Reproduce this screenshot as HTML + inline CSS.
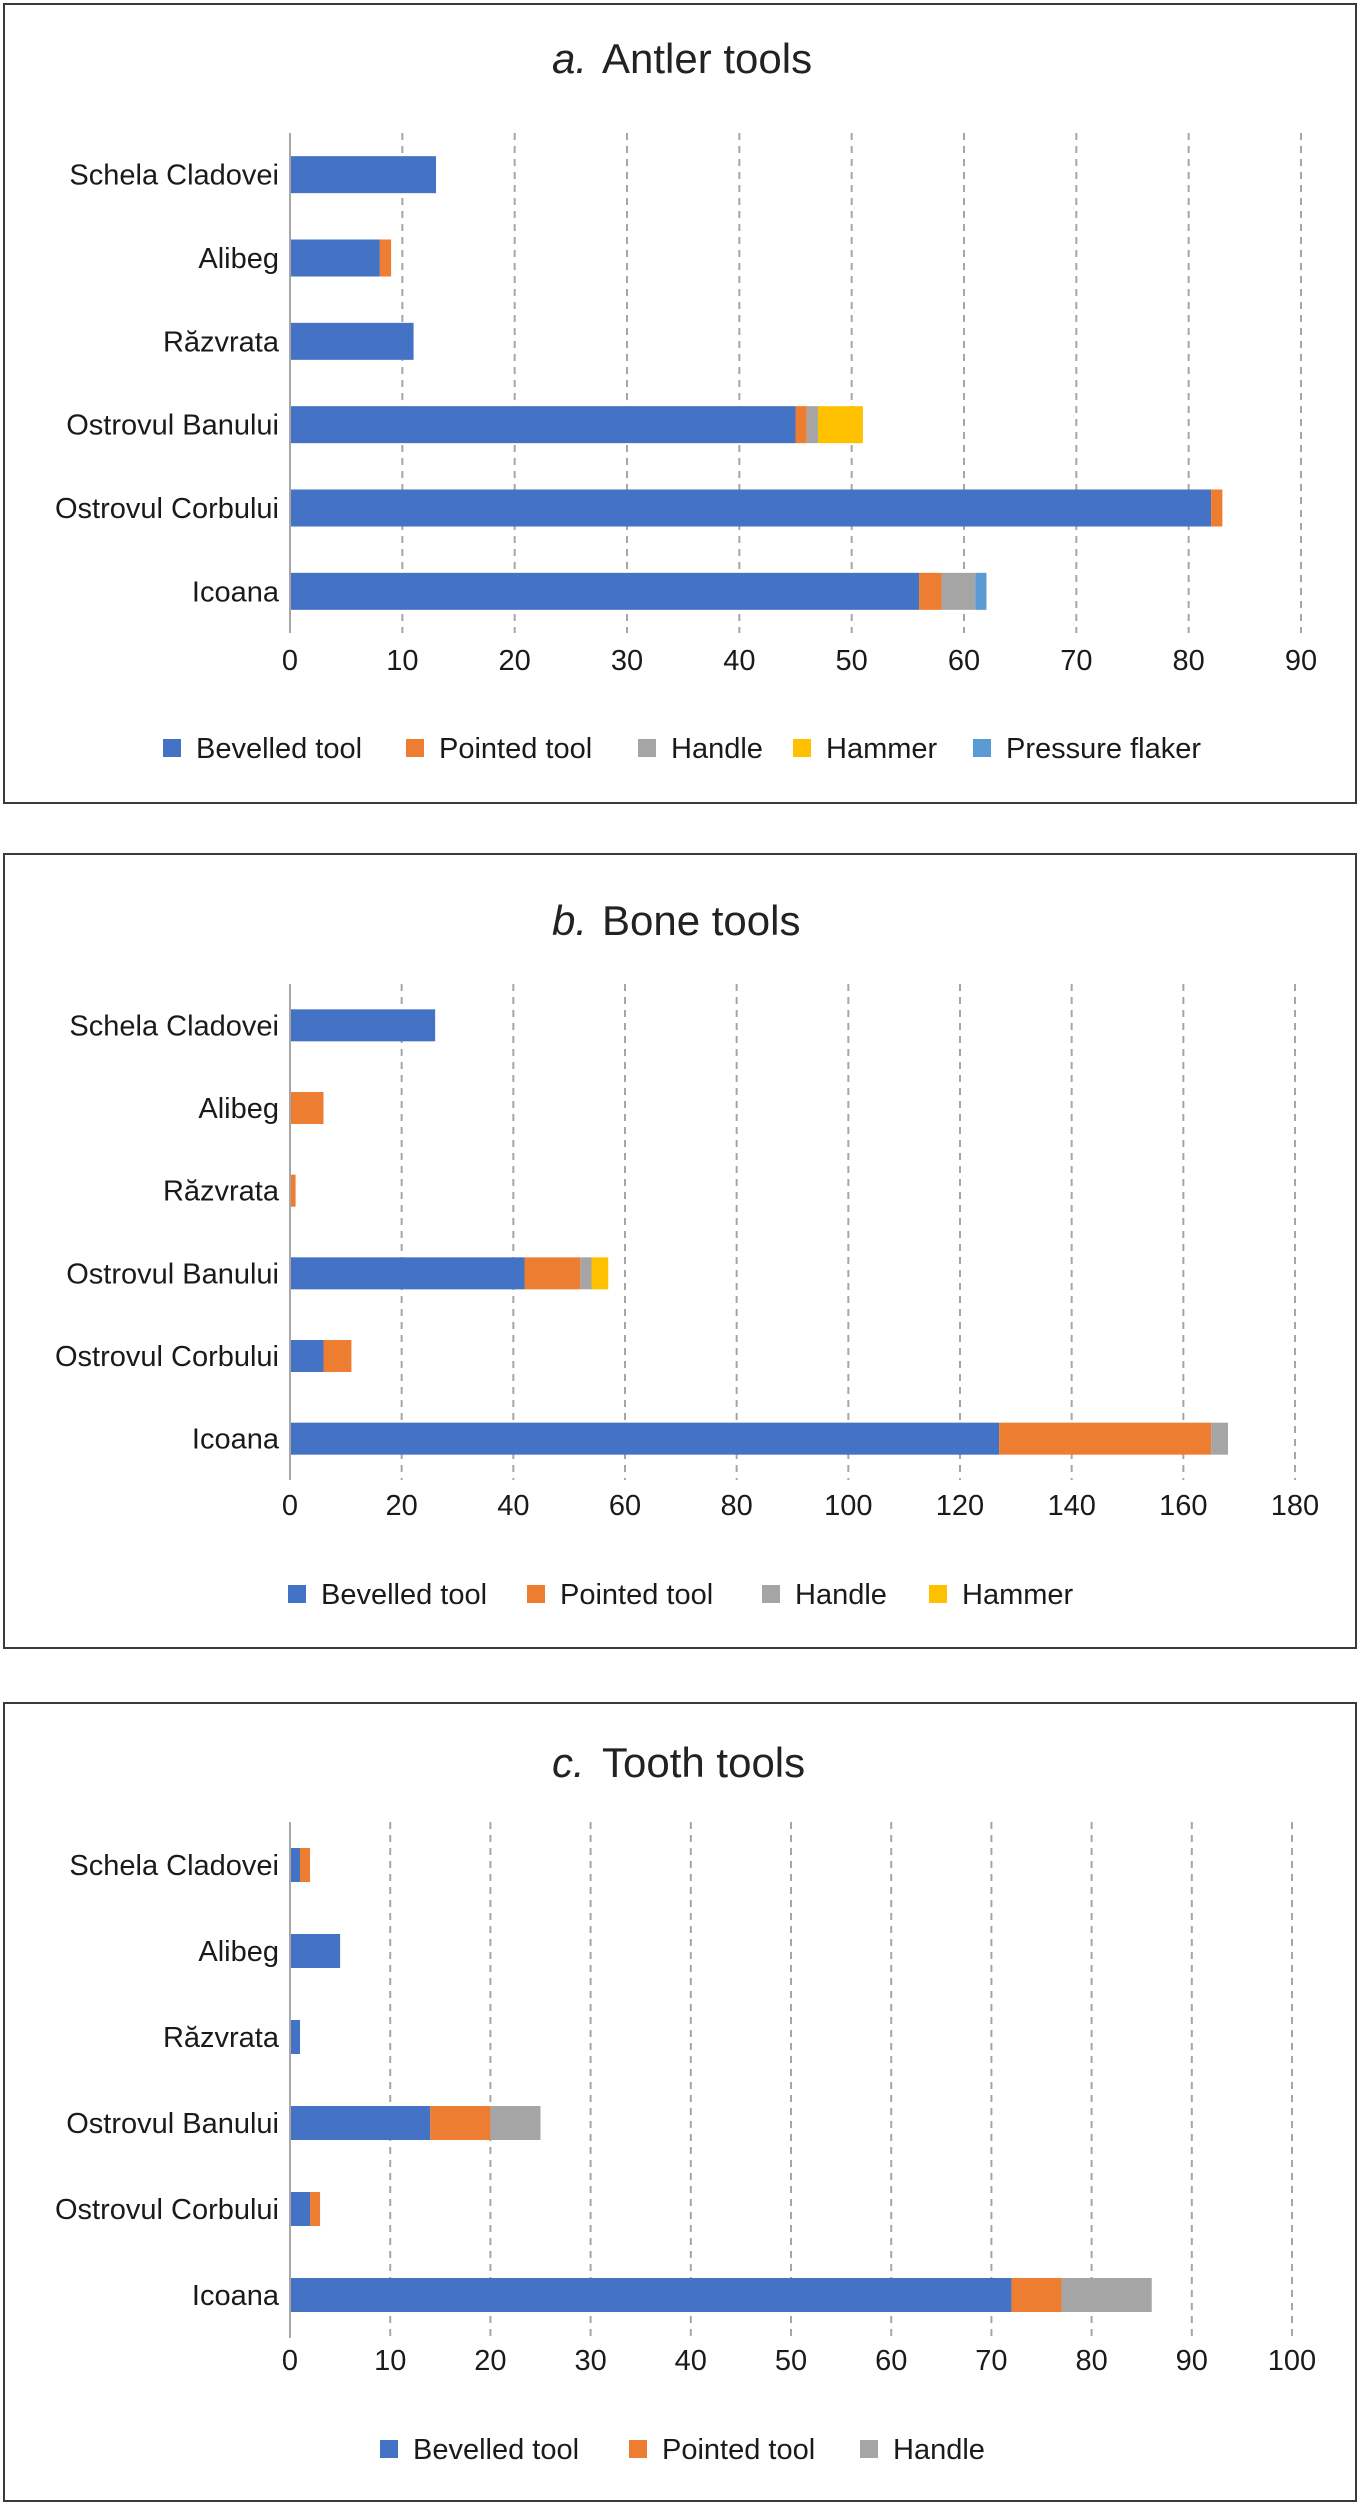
<!DOCTYPE html>
<html><head><meta charset="utf-8"><style>
html,body{margin:0;padding:0;background:#fff;}
svg{display:block;font-family:"Liberation Sans",sans-serif;}
</style></head><body>
<svg id="root" width="1362" height="2505" viewBox="0 0 1362 2505" xmlns="http://www.w3.org/2000/svg"></svg>
<script>
// ---- shared data ----
const categories = ["Schela Cladovei","Alibeg","Răzvrata","Ostrovul Banului","Ostrovul Corbului","Icoana"];
const seriesNames = ["Bevelled tool","Pointed tool","Handle","Hammer","Pressure flaker"];
const seriesColors = ["#4472C4","#ED7D31","#A5A5A5","#FFC000","#5B9BD5"];

// ---- chart a: antler tools ----
const antlerBevelled = [13, 8, 11, 45, 82, 56];
const antlerPointed  = [0, 1, 0, 1, 1, 2];
const antlerHandle   = [0, 0, 0, 1, 0, 3];
const antlerHammer   = [0, 0, 0, 4, 0, 0];
const antlerFlaker   = [0, 0, 0, 0, 0, 1];
const antlerTicks = [0,10,20,30,40,50,60,70,80,90];

// ---- chart b: bone tools ----
const boneBevelled = [26, 0, 0, 42, 6, 127];
const bonePointed  = [0, 6, 1, 10, 5, 38];
const boneHandle   = [0, 0, 0, 2, 0, 3];
const boneHammer   = [0, 0, 0, 3, 0, 0];
const boneTicks = [0,20,40,60,80,100,120,140,160,180];

// ---- chart c: tooth tools ----
const toothBevelled = [1, 5, 1, 14, 2, 72];
const toothPointed  = [1, 0, 0, 6, 1, 5];
const toothHandle   = [0, 0, 0, 5, 0, 9];
const toothTicks = [0,10,20,30,40,50,60,70,80,90,100];

const NS = "http://www.w3.org/2000/svg";
const root = document.getElementById("root");
function mk(tag, attrs, parent){
  const e = document.createElementNS(NS, tag);
  for (const k in attrs) e.setAttribute(k, attrs[k]);
  (parent||root).appendChild(e);
  return e;
}

function drawChart(cfg){
  const g = mk("g", {});
  
  
  const frame = mk("rect", {x:4, y:cfg.boxTop, width:1352, height:cfg.boxBottom-cfg.boxTop, fill:"#fff", stroke:"#3a3a3a", "stroke-width":2}, g);
  
  
  // title
  const t = mk("text", {x:552, y:cfg.titleY, "font-size":42, fill:"#222"}, g);
  
  
  const ts1 = mk("tspan", {"font-style":"italic"}, t); ts1.textContent = cfg.letter + ".";
  const ts2 = mk("tspan", {x:602}, t); ts2.textContent = cfg.title;

  const x0 = 290, x1 = cfg.xEnd, maxV = cfg.ticks[cfg.ticks.length-1];
  const xs = v => x0 + (x1 - x0) * v / maxV;
  const band = (cfg.plotBottom - cfg.plotTop) / categories.length;
  const yc = i => cfg.plotTop + band * (i + 0.5);

  // gridlines
  cfg.ticks.forEach((tv, i) => {
    if (i === 0) return;
    const l = mk("line", {x1:xs(tv), x2:xs(tv), y1:cfg.plotTop, y2:cfg.plotBottom, stroke:"#a6a6a6", "stroke-width":2, "stroke-dasharray":"7,6"}, g);
    
    
  });
  // bars
  categories.forEach((c, i) => {
    let acc = 0;
    cfg.series.forEach((arr, s) => {
      const v = arr[i];
      if (v > 0) {
        const r = mk("rect", {x:xs(acc), y:yc(i)-cfg.barH/2, width:xs(acc+v)-xs(acc), height:cfg.barH, fill:seriesColors[s]}, g);
        
        
      }
      acc += v;
    });
    const lab = mk("text", {x:279, y:yc(i)+10, "font-size":29, "text-anchor":"end", fill:"#1a1a1a"}, g);
    lab.textContent = c;
    
    
  });
  // axis
  const ax = mk("line", {x1:x0, x2:x0, y1:cfg.plotTop, y2:cfg.plotBottom, stroke:"#a6a6a6", "stroke-width":2}, g);
  
  
  cfg.ticks.forEach(tv => {
    const tl = mk("text", {x:xs(tv), y:cfg.tickY+10, "font-size":29, "text-anchor":"middle", fill:"#1a1a1a"}, g);
    tl.textContent = tv;
    
    
  });
  // legend
  cfg.legendX.forEach((lx, s) => {
    const sq = mk("rect", {x:lx, y:cfg.legendY-9, width:18, height:18, fill:seriesColors[s]}, g);
    
    
    const lt = mk("text", {x:lx+33, y:cfg.legendY+10, "font-size":29, fill:"#1a1a1a"}, g);
    lt.textContent = seriesNames[s];
    
    
  });
}

drawChart({name:"antler-chart", letter:"a", title:"Antler tools", boxTop:4, boxBottom:803, titleY:73,
  plotTop:133, plotBottom:633, xEnd:1301, ticks:antlerTicks, barH:37, tickY:660, legendY:748,
  series:[antlerBevelled, antlerPointed, antlerHandle, antlerHammer, antlerFlaker],
  legendX:[163, 406, 638, 793, 973]});

drawChart({name:"bone-chart", letter:"b", title:"Bone tools", boxTop:854, boxBottom:1648, titleY:935,
  plotTop:984, plotBottom:1480, xEnd:1295, ticks:boneTicks, barH:32, tickY:1505, legendY:1594,
  series:[boneBevelled, bonePointed, boneHandle, boneHammer],
  legendX:[288, 527, 762, 929]});

drawChart({name:"tooth-chart", letter:"c", title:"Tooth tools", boxTop:1703, boxBottom:2501, titleY:1777,
  plotTop:1822, plotBottom:2338, xEnd:1292, ticks:toothTicks, barH:34, tickY:2360, legendY:2449,
  series:[toothBevelled, toothPointed, toothHandle],
  legendX:[380, 629, 860]});
</script>
</body></html>
